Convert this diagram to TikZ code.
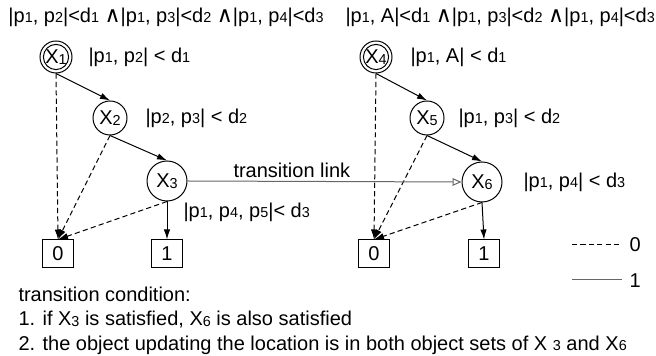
\documentclass[tikz,border=0pt]{standalone}
\usepackage{fontspec}
\setmainfont{Liberation Sans}
\newfontfamily\symfont{DejaVu Sans}
\usetikzlibrary{arrows.meta}
% small index digits set on the baseline
\newcommand\ix[1]{{\fontsize{7.2}{8}\selectfont\raisebox{-0.3pt}{#1}}}
\newcommand\andop{{\symfont\fontsize{11}{12}\selectfont ∧}}
\begin{document}
\begin{tikzpicture}[x=0.5pt,y=-0.5pt,
  font=\fontsize{10}{12}\selectfont,
  line width=0.5pt,
  state/.style={draw,circle,inner sep=0pt,minimum size=17pt},
  bigstate/.style={draw,circle,inner sep=0pt,minimum size=20pt},
  startstate/.style={draw,circle,inner sep=0pt,minimum size=16pt},
  leaf/.style={draw,inner sep=0pt,minimum width=15.5pt,minimum height=14pt},
  txt/.style={inner sep=0pt,anchor=west},
  hi/.style={-{Latex[length=5pt,width=3.2pt]}},
  lo/.style={-{Latex[length=5pt,width=3.2pt]},dash pattern=on 2.6pt off 1.6pt},
  link/.style={draw=black!60,-{Triangle[open,length=4.5pt,width=3.8pt]}}]
\useasboundingbox (0,0) rectangle (656,356);

% headers
\node[txt] (hl) at (8,17) {|p\ix1, p\ix2|<d\ix1 \andop|p\ix1, p\ix3|<d\ix2 \andop|p\ix1, p\ix4|<d\ix3};
\node[txt] (hr) at (345,17) {|p\ix1, A|<d\ix1 \andop|p\ix1, p\ix3|<d\ix2 \andop|p\ix1, p\ix4|<d\ix3};

% left diagram
\node[startstate] (x1) at (56,57) {X\ix1};
\draw (x1.center) circle[radius=6.3pt];
\node[state] (x2) at (110,118) {X\ix2};
\node[bigstate] (x3) at (167,181) {X\ix3};
\node[leaf] (l0) at (58,254) {0};
\node[leaf] (l1) at (167,254) {1};
\node[txt] (c1) at (88,57) {|p\ix1, p\ix2| < d\ix1};
\node[txt] (c2) at (145,118) {|p\ix2, p\ix3| < d\ix2};
\node[txt] (c3) at (183,212) {|p\ix1, p\ix4, p\ix5|< d\ix3};

\draw[hi] (x1.south) -- (x2.north);
\draw[hi] (x2.south) -- (x3.north);
\draw[hi] (x3.south) -- (l1.north);
\draw[lo] (x1.south) -- (l0.north);
\draw[lo] (x2.south) -- (l0.north);
\draw[lo] (x3.south) -- (l0.north);

% right diagram
\node[startstate] (x4) at (376,57) {X\ix4};
\draw (x4.center) circle[radius=6.3pt];
\node[state] (x5) at (427,118) {X\ix5};
\node[bigstate] (x6) at (482,182) {X\ix6};
\node[leaf] (r0) at (374,254) {0};
\node[leaf] (r1) at (484,254) {1};
\node[txt] (c4) at (410,57) {|p\ix1, A| < d\ix1};
\node[txt] (c5) at (458,118) {|p\ix1, p\ix3| < d\ix2};
\node[txt] (c6) at (523,182) {|p\ix1, p\ix4| < d\ix3};

\draw[hi] (x4.south) -- (x5.north);
\draw[hi] (x5.south) -- (x6.north);
\draw[hi] (x6.south) -- (r1.north);
\draw[lo] (x4.south) -- (r0.north);
\draw[lo] (x5.south) -- (r0.north);
\draw[lo] (x6.south) -- (r0.north);

% transition link
\draw[link] (x3.east) -- (x6.west);
\node[txt] (tl) at (233,170) {transition link};

% legend
\coordinate (d0) at (572,245);
\coordinate (d1) at (622,245);
\coordinate (s0) at (572,280);
\coordinate (s1) at (622,280);
\draw[dash pattern=on 2.6pt off 1.6pt] (d0) -- (d1);
\draw[black!60] (s0) -- (s1);
\node[txt] (k0) at (629,245) {0};
\node[txt] (k1) at (629,281) {1};

% transition condition
\node[txt] (t0) at (18,294) {transition condition:};
\node[txt] (t1) at (18,320) {1. if X\ix3 is satisfied, X\ix6 is also satisfied};
\node[txt] (t2) at (18,345) {2. the object updating the location is in both object sets of X \ix3 and X\ix6};
\end{tikzpicture}
\end{document}
